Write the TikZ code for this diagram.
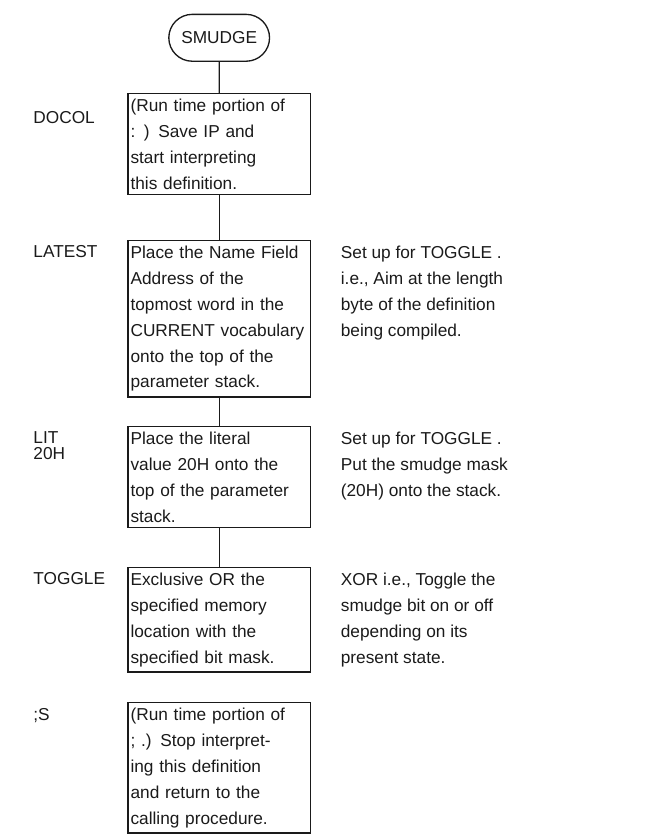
\documentclass[tikz,border=0pt]{standalone}
\usepackage{fontspec}
\setmainfont{Liberation Sans}
\usetikzlibrary{positioning, shapes.misc}
\definecolor{cink}{HTML}{1A1A1A}
\newcommand{\flowfont}{\fontsize{13}{19.5}\selectfont}
\tikzset{
  every picture/.style={font=\flowfont, line width=1pt},
  term/.style={draw=cink, text=cink, rounded rectangle, minimum width=2.9cm, minimum height=1.24cm},
  box/.style={draw=cink, text=cink, anchor=north, align=left, text width=4.69cm, inner xsep=2pt, inner ysep=4pt},
  link/.style={draw=cink, line width=1pt},
  note/.style={text=cink, align=left, inner xsep=2pt, inner ysep=4pt},
  word/.style={text=cink, align=left, inner xsep=0pt, inner ysep=4pt, font=\fontsize{13}{12}\selectfont},
}
\begin{document}
\begin{tikzpicture}
  \useasboundingbox (0,0) rectangle (17.28,-22.07);
  \node[term] (smudge) at (5.8,-1.0) {SMUDGE};
  % one box per word of the definition
  \node[box] (docol) at (5.8,-2.46) {(Run time portion of\\: ) Save IP and\\start interpreting\\this definition.};
  \node[box] (latest) at (5.8,-6.35) {Place the Name Field\\Address of the\\topmost word in the\\CURRENT vocabulary\\onto the top of the\\parameter stack.};
  \node[box] (lit) at (5.8,-11.27) {Place the literal\\value 20H onto the\\top of the parameter\\stack.};
  \node[box] (toggle) at (5.8,-15.0) {Exclusive OR the\\specified memory\\location with the\\specified bit mask.};
  \node[box] (semis) at (5.8,-18.58) {(Run time portion of\\; .) Stop interpret-\\ing this definition\\and return to the\\calling procedure.};
  \draw[link] (smudge) -- (docol); \draw[link] (docol) -- (latest);
  \draw[link] (latest) -- (lit); \draw[link] (lit) -- (toggle);
  % words on the left
  \node[word, left=2.5cm of docol.north west, anchor=north west, yshift=-0.33cm] (wdocol) {DOCOL};
  \node[word, left=2.5cm of latest.north west, anchor=north west] (wlatest) {LATEST};
  \node[word, left=2.5cm of lit.north west, anchor=north west] (wlit) {LIT\\20H};
  \node[word, left=2.5cm of toggle.north west, anchor=north west] (wtoggle) {TOGGLE};
  \node[word, left=2.5cm of semis.north west, anchor=north west] (wsemis) {;S};
  % remarks on the right
  \node[note, right=0.7cm of latest.north east, anchor=north west] (nlatest) {Set up for TOGGLE .\\i.e., Aim at the length\\byte of the definition\\being compiled.};
  \node[note, right=0.7cm of lit.north east, anchor=north west] (nlit) {Set up for TOGGLE .\\Put the smudge mask\\(20H) onto the stack.};
  \node[note, right=0.7cm of toggle.north east, anchor=north west] (ntoggle) {XOR i.e., Toggle the\\smudge bit on or off\\depending on its\\present state.};
\end{tikzpicture}
\end{document}
